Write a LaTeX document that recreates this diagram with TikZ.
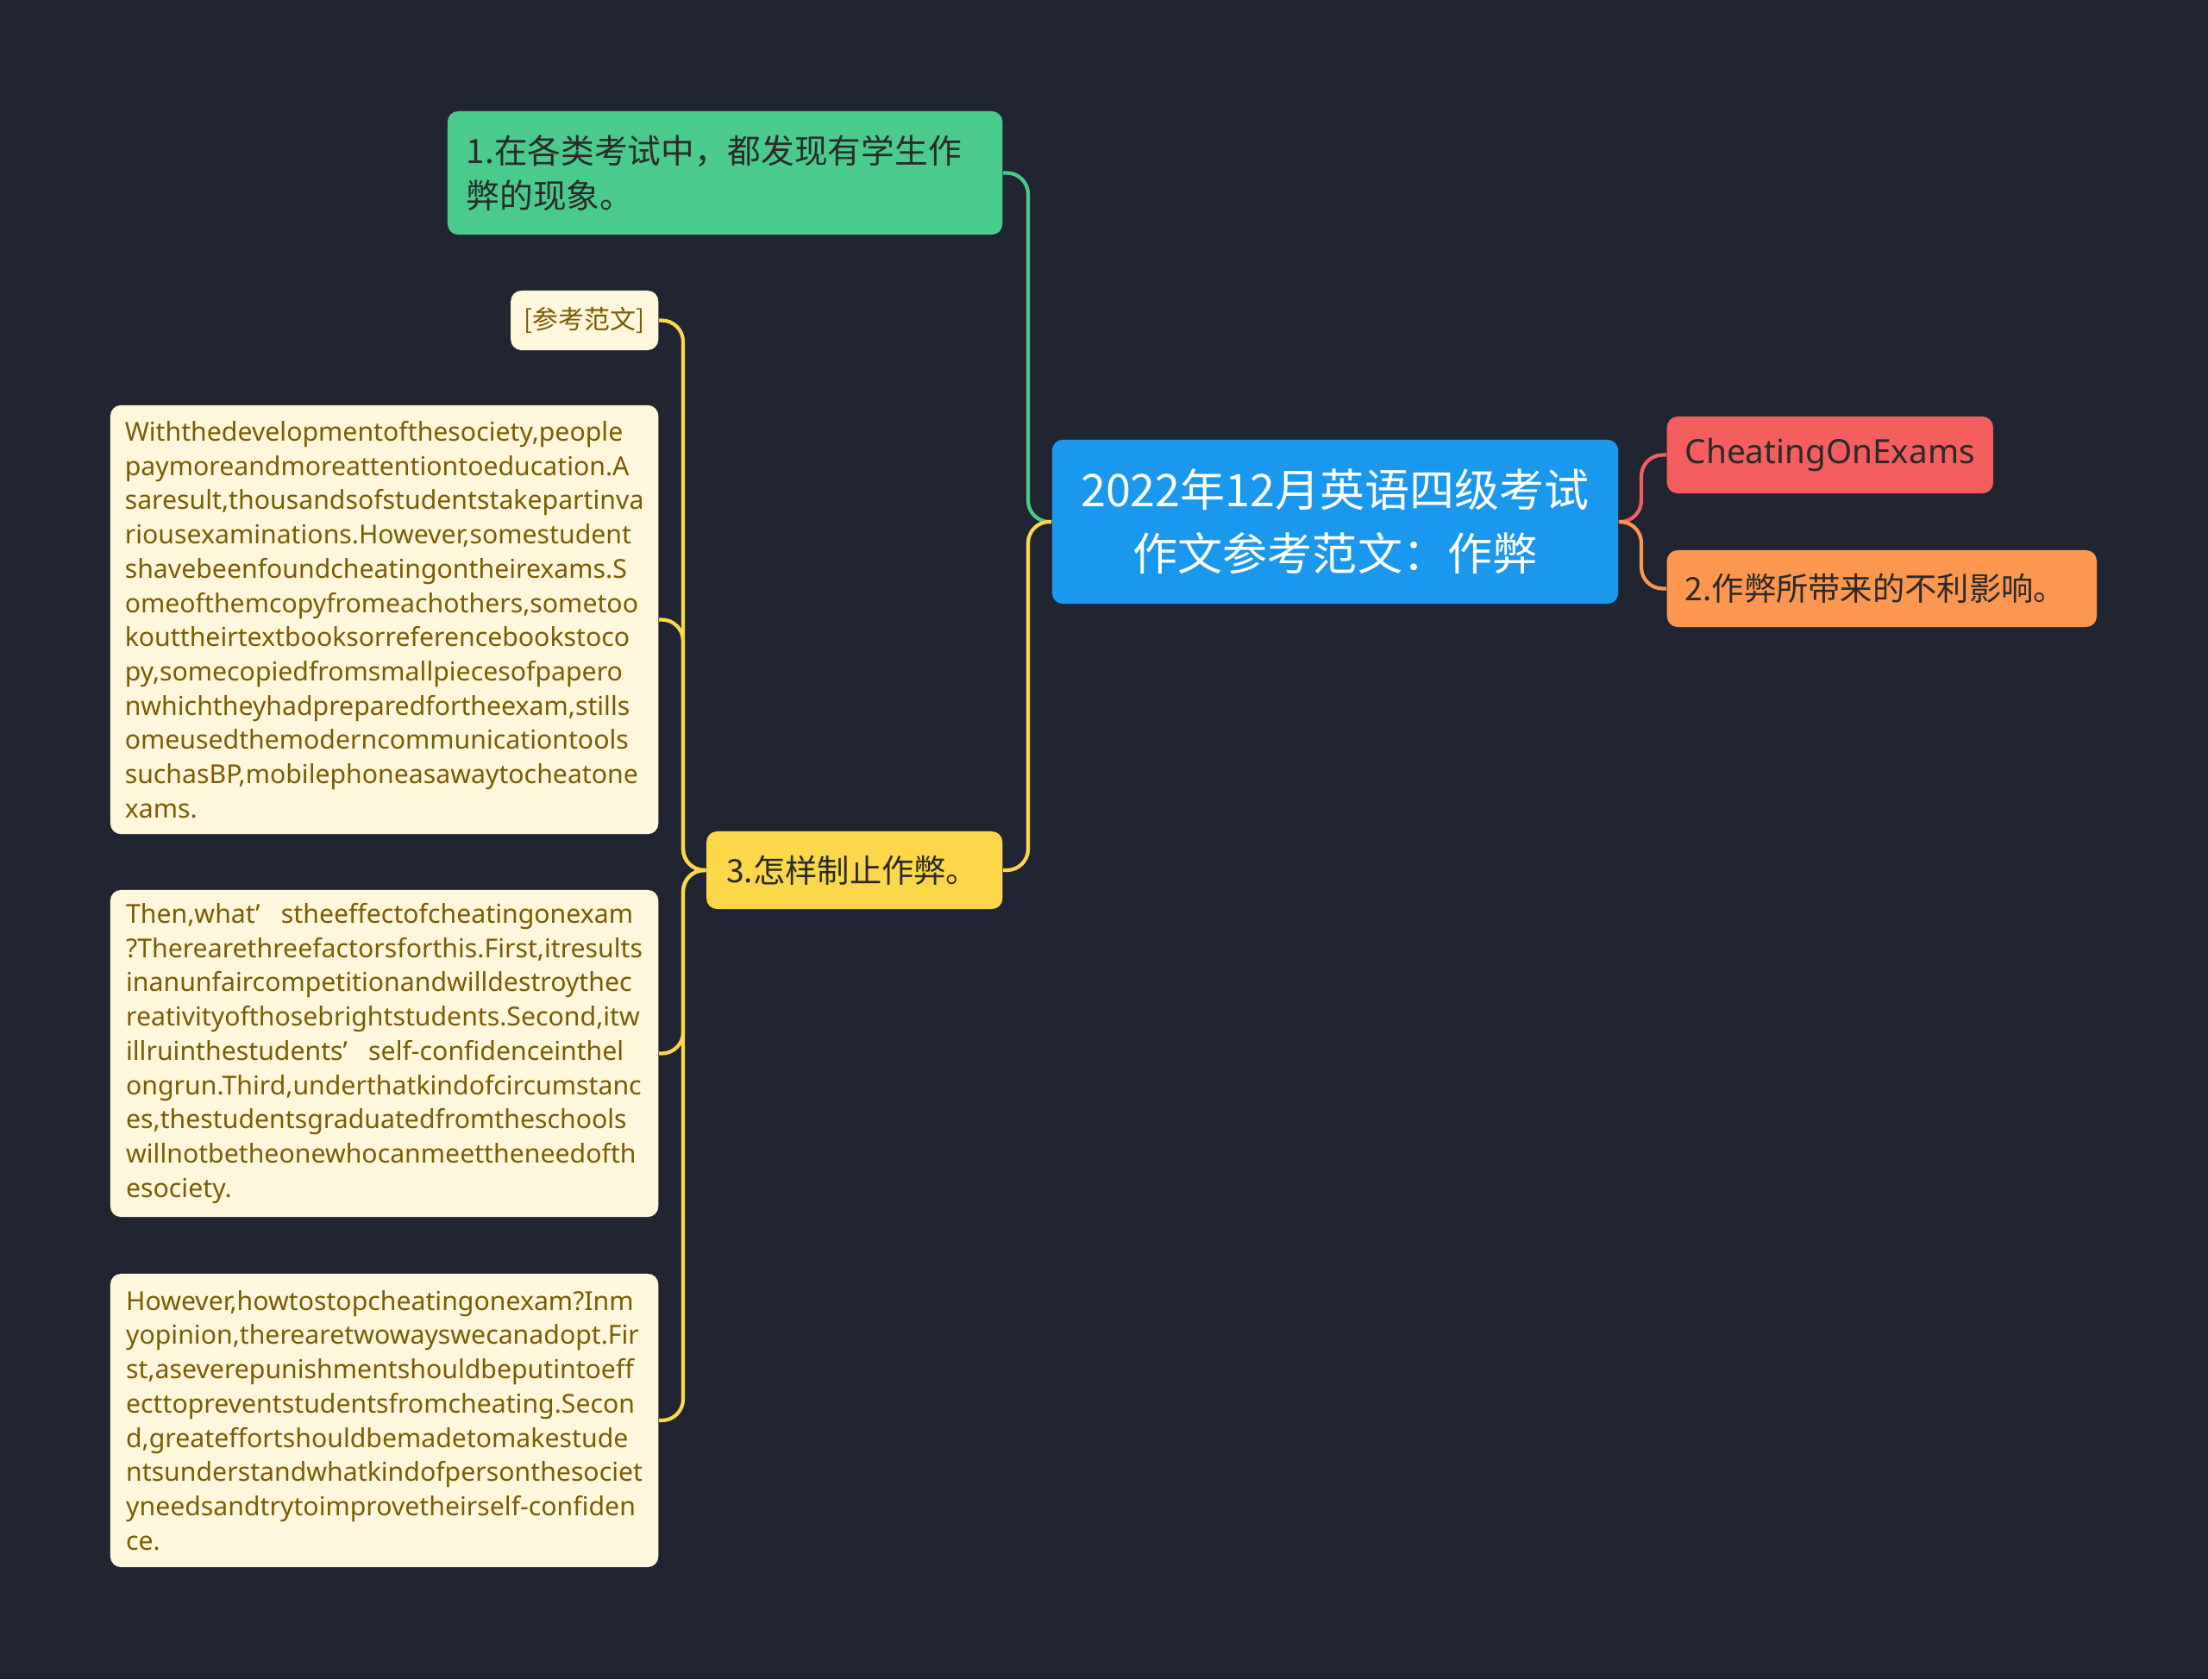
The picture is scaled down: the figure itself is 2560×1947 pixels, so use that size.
\documentclass[tikz,border=0pt]{standalone}
\usepackage{fontspec}
\setmainfont{Noto Sans CJK SC}
\newfontfamily\latinfont{Noto Sans}
\definecolor{bgnavy}{HTML}{212532}
\definecolor{rootblue}{HTML}{1A98EE}
\definecolor{findgreen}{HTML}{4ACB8C}
\definecolor{cheatred}{HTML}{F55E5E}
\definecolor{harmorange}{HTML}{FD9750}
\definecolor{stopyellow}{HTML}{FCD74A}
\definecolor{notecream}{HTML}{FFF7DC}
\definecolor{noteink}{HTML}{7A5C00}
\definecolor{darkink}{HTML}{2A2A2A}
\begin{document}
\begin{tikzpicture}[x=0.01cm,y=-0.01cm,
  box/.style={rounded corners=3.5pt,inner ysep=0pt},
  topic/.style={box,font=\fontsize{10.6}{14.8}\selectfont,text=darkink,inner xsep=0.21cm,minimum height=0.89cm,align=left},
  note/.style={box,fill=notecream,text=noteink,font=\latinfont\fontsize{8.6}{11.3}\selectfont,minimum width=6.35cm,inner xsep=0.1cm,align=left,anchor=east},
  link/.style={line width=1.2pt,rounded corners=7pt}]
\fill[bgnavy] (0,0) rectangle (2560,1947);
\useasboundingbox (0,0) rectangle (2560,1947);

% centre and first level
\node (root) at (1548,605) [box,fill=rootblue,text=white,font=\fontsize{14.8}{21}\selectfont,minimum width=6.56cm,minimum height=1.9cm,align=center] {2022年12月英语四级考试\\作文参考范文：作弊};
\node (cheat) at (1932,527.5) [topic,fill=cheatred,anchor=west,text width=3.36cm,font=\latinfont\fontsize{11}{14.8}\selectfont] {CheatingOnExams};
\node (harm) at (1932,682.5) [topic,fill=harmorange,anchor=west,text width=4.56cm] {2.作弊所带来的不利影响。};
\node (find) at (1163,200.5) [topic,fill=findgreen,anchor=east,text width=5.99cm,inner xsep=0.22cm,minimum height=1.43cm,font=\fontsize{11}{14.8}\selectfont,text=darkink] {1.在各类考试中，都发现有学生作\\弊的现象。};
\node (stop) at (1163,1009) [topic,fill=stopyellow,anchor=east,text width=2.97cm,inner xsep=0.23cm,minimum height=0.9cm] {3.怎样制止作弊。};

% notes under 3.
\node (ref) at (764,371.5) [box,fill=notecream,text=noteink,anchor=east,font=\fontsize{8.5}{11.3}\selectfont,minimum width=1.71cm,minimum height=0.69cm] {[参考范文]};
\node (para1) at (764,718.5) [note,minimum height=4.97cm] {Withthedevelopmentofthesociety,people\\paymoreandmoreattentiontoeducation.A\\saresult,thousandsofstudentstakepartinva\\riousexaminations.However,somestudent\\shavebeenfoundcheatingontheirexams.S\\omeofthemcopyfromeachothers,sometoo\\kouttheirtextbooksorreferencebookstoco\\py,somecopiedfromsmallpiecesofpapero\\nwhichtheyhadpreparedfortheexam,stills\\omeusedthemoderncommunicationtools\\suchasBP,mobilephoneasawaytocheatone\\xams.};
\node (para2) at (764,1221.5) [note,minimum height=3.79cm] {Then,what’\hspace{0.8em}stheeffectofcheatingonexam\\?Therearethreefactorsforthis.First,itresults\\inanunfaircompetitionandwilldestroythec\\reativityofthosebrightstudents.Second,itw\\illruinthestudents’\hspace{0.8em}self-confidenceinthel\\ongrun.Third,underthatkindofcircumstanc\\es,thestudentsgraduatedfromtheschools\\willnotbetheonewhocanmeettheneedofth\\esociety.};
\node (para3) at (764,1647) [note,minimum height=3.4cm] {However,howtostopcheatingonexam?Inm\\yopinion,therearetwowayswecanadopt.Fir\\st,aseverepunishmentshouldbeputintoeff\\ecttopreventstudentsfromcheating.Secon\\d,greateffortshouldbemadetomakestude\\ntsunderstandwhatkindofpersonthesociet\\yneedsandtrytoimprovetheirself-confiden\\ce.};

% junctions
\coordinate (jr) at (1903,605);
\coordinate (jl) at (1192,605);
\coordinate (js) at (792,1009);

\draw[link,cheatred] (root.east) -- (jr) |- (cheat.west);
\draw[link,harmorange] (root.east) -- (jr) |- (harm.west);
\draw[link,findgreen] (find.east) -| (jl) -- (root.west);
\draw[link,stopyellow] (stop.east) -| (jl) -- (root.west);
\foreach \n in {ref,para1,para2,para3}
  \draw[link,stopyellow] (stop.west) -- (js) |- (\n.east);
\end{tikzpicture}
\end{document}
